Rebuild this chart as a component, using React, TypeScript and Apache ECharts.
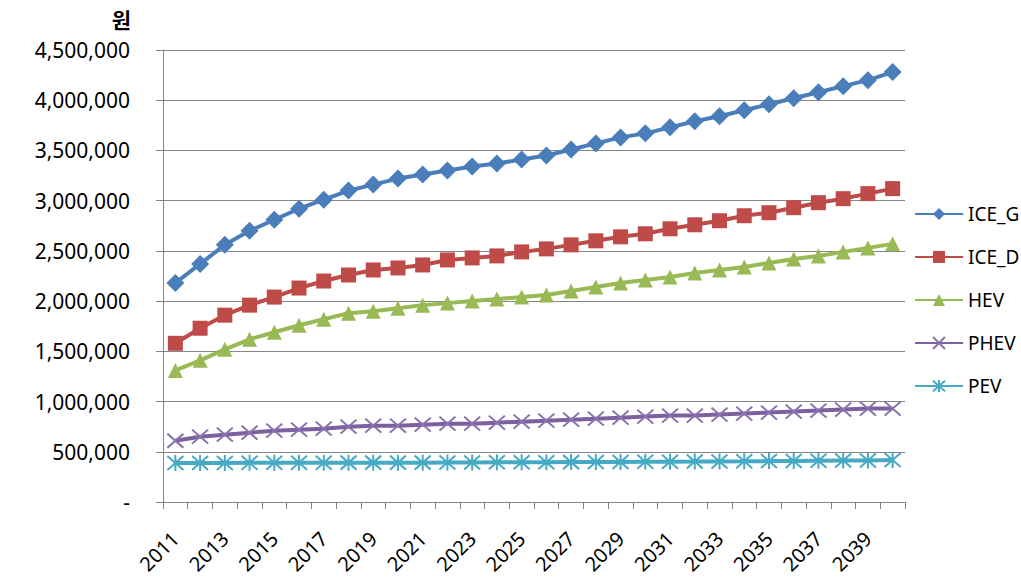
import React, { useEffect, useRef } from "react";
import * as echarts from "echarts";

const years = [
  "2011", "2012", "2013", "2014", "2015", "2016", "2017", "2018", "2019", "2020",
  "2021", "2022", "2023", "2024", "2025", "2026", "2027", "2028", "2029", "2030",
  "2031", "2032", "2033", "2034", "2035", "2036", "2037", "2038", "2039", "2040",
];

const iceG = [
  2180000, 2370000, 2560000, 2700000, 2810000, 2920000, 3010000, 3100000, 3160000, 3220000,
  3260000, 3300000, 3340000, 3370000, 3410000, 3450000, 3510000, 3570000, 3630000, 3670000,
  3730000, 3790000, 3840000, 3900000, 3960000, 4020000, 4080000, 4140000, 4200000, 4280000,
];
const iceD = [
  1580000, 1730000, 1860000, 1960000, 2040000, 2130000, 2200000, 2260000, 2310000, 2330000,
  2360000, 2410000, 2430000, 2450000, 2490000, 2520000, 2560000, 2600000, 2640000, 2670000,
  2720000, 2760000, 2800000, 2850000, 2880000, 2930000, 2980000, 3020000, 3070000, 3120000,
];
const hev = [
  1310000, 1410000, 1520000, 1620000, 1690000, 1760000, 1820000, 1880000, 1900000, 1930000,
  1960000, 1980000, 2000000, 2020000, 2040000, 2060000, 2100000, 2140000, 2180000, 2210000,
  2240000, 2280000, 2310000, 2340000, 2380000, 2420000, 2450000, 2490000, 2530000, 2570000,
];
const phev = [
  610000, 650000, 670000, 690000, 710000, 720000, 730000, 750000, 760000, 760000,
  770000, 780000, 780000, 790000, 800000, 810000, 820000, 830000, 840000, 850000,
  860000, 860000, 870000, 880000, 890000, 900000, 910000, 920000, 930000, 930000,
];
const pev = [
  388000, 388000, 388000, 390000, 390000, 390000, 390000, 392000, 392000, 392000,
  392000, 394000, 394000, 395000, 395000, 396000, 397000, 398000, 399000, 400000,
  401000, 402000, 404000, 405000, 407000, 408000, 410000, 412000, 414000, 418000,
];

const seriesNames = ["ICE_G", "ICE_D", "HEV", "PHEV", "PEV"];
const yTicks = { min: 0, max: 4500000, interval: 500000 };
const unitLabel = "원";

const latin = "'Noto Sans', 'Noto Sans CJK KR', sans-serif";

export default function App() {
  const ref = useRef<HTMLDivElement>(null);
  useEffect(() => {
    if (!ref.current) return;
    const chart = echarts.init(ref.current, null, { renderer: "svg" });
    const colors = ["#4A7EBB", "#BE4B48", "#98B954", "#7D60A0", "#46AAC5"];
    const markers = [
      { symbol: "diamond", symbolSize: 18 },
      { symbol: "rect", symbolSize: 15 },
      { symbol: "triangle", symbolSize: 15 },
      { symbol: "path://M0,0L16,14M16,0L0,14", symbolSize: [16, 14] },
      { symbol: "path://M0,0L16,14M16,0L0,14M8,-1L8,15", symbolSize: [16, 16] },
    ];
    const dataSets = [iceG, iceD, hev, phev, pev];
    const series = seriesNames.map((name, i) => {
      const stroke = i >= 3;
      return {
        name,
        type: "line",
        data: dataSets[i],
        symbol: markers[i].symbol,
        symbolSize: markers[i].symbolSize,
        showAllSymbol: true,
        lineStyle: { color: colors[i], width: 4 },
        itemStyle: stroke
          ? { color: colors[i], borderColor: i === 3 ? "#8A72AE" : colors[i], borderWidth: 2 }
          : { color: colors[i], borderWidth: 0 },
        z: 10 - i,
      };
    });
    chart.setOption({
      animation: false,
      color: colors,
      grid: { left: 163, right: 116, top: 50, bottom: 78, containLabel: false },
      legend: {
        orient: "vertical",
        left: 909,
        top: 199,
        itemWidth: 48,
        itemHeight: 15,
        itemGap: 23,
        textStyle: { fontSize: 19, fontFamily: latin, color: "#000", lineHeight: 20 },
        data: seriesNames,
      },
      graphic: [
        {
          type: "text",
          right: 1021 - 131,
          top: 8,
          style: {
            text: unitLabel,
            fontSize: 21,
            fontWeight: "bold",
            fontFamily: "'Noto Sans CJK KR', sans-serif",
            fill: "#000",
          },
        },
      ],
      xAxis: {
        type: "category",
        data: years,
        boundaryGap: true,
        axisLine: { lineStyle: { color: "#868686", width: 1 } },
        axisTick: { show: true, interval: 0, length: 7, lineStyle: { color: "#868686" } },
        axisLabel: {
          interval: 1,
          rotate: 45,
          margin: 33,
          fontSize: 20,
          fontFamily: latin,
          color: "#000",
        },
      },
      yAxis: {
        type: "value",
        min: yTicks.min,
        max: yTicks.max,
        interval: yTicks.interval,
        axisLine: { show: true, lineStyle: { color: "#868686", width: 1 } },
        axisTick: { show: true, length: 7, lineStyle: { color: "#868686" } },
        splitLine: { show: true, lineStyle: { color: "#868686", width: 1 } },
        axisLabel: {
          margin: 33,
          fontSize: 21,
          fontFamily: latin,
          color: "#000",
          formatter: (v: number) => (v === 0 ? "-" : v.toLocaleString("en-US")),
        },
      },
      series,
    });
    return () => chart.dispose();
  }, []);
  return <div ref={ref} style={{ width: 1021, height: 580, position: "absolute", left: 0, top: 0 }} />;
}
